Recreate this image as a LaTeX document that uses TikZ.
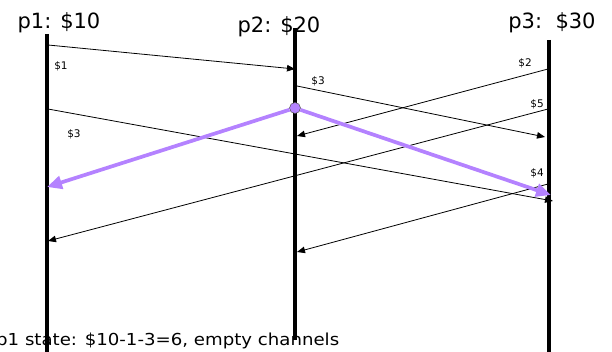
\documentclass[tikz,border=0pt]{standalone}
\usepackage{fontspec}
\setmainfont{DejaVu Sans}
\newfontfamily\widefont[FakeStretch=1.1]{DejaVu Sans}
\usetikzlibrary{arrows.meta}
\definecolor{snap}{RGB}{180,130,255}
\begin{document}
\begin{tikzpicture}[x=1pt,y=-1pt,
  timeline/.style={line width=4pt},
  msg/.style={line width=0.8pt,-{Triangle[length=8pt,width=6.5pt]}},
  marker/.style={line width=3.7pt,snap,-{Triangle[length=15pt,width=13pt]}},
  lbl/.style={font=\fontsize{10.5}{12}\selectfont,inner sep=0pt},
  title/.style={font=\fontsize{21}{24}\selectfont,inner sep=0pt,anchor=base}]
\useasboundingbox (0,0) rectangle (612,352);
% titles
\node[title] (t1) at (59,29) {p1: \$10};
\node[title] (t2) at (279,33) {p2: \$20};
\node[title] (t3) at (552,29) {p3:\ \ \$30};
% bottom text
\node[font=\widefont\fontsize{16.5}{18}\selectfont,anchor=base west,inner sep=0pt] (st) at (-4,345) {p1 state: \$10-1-3=6, empty channels};
% timelines
\coordinate (p1top) at (47,34);
\coordinate (p1bot) at (47,352);
\coordinate (p2top) at (295,28);
\coordinate (p2bot) at (295,340);
\coordinate (p3top) at (549,40);
\coordinate (p3bot) at (549,352);
\draw[timeline] (p1top) -- (p1bot);
\draw[timeline] (p2top) -- (p2bot);
\draw[timeline] (p3top) -- (p3bot);
% message endpoints
\coordinate (a1) at (48,45);  \coordinate (b1) at (295,69);
\coordinate (a2) at (297,86); \coordinate (b2) at (545,137);
\coordinate (a3) at (48,109); \coordinate (b3) at (553,201);
\coordinate (a4) at (548,69); \coordinate (b4) at (297,136);
\coordinate (a5) at (548,109);\coordinate (b5) at (48,241);
\coordinate (a6) at (548,184);\coordinate (b6) at (297,252);
\draw[msg] (a1) -- (b1);
\draw[msg] (a2) -- (b2);
\draw[msg] (a3) -- (b3);
\draw[msg] (a4) -- (b4);
\draw[msg] (a5) -- (b5);
\draw[msg] (a6) -- (b6);
% labels
\node[lbl] (l1) at (61,66) {\$1};
\node[lbl] (l2) at (318,81) {\$3};
\node[lbl] (l3) at (74,134) {\$3};
\node[lbl] (l4) at (525,63) {\$2};
\node[lbl] (l5) at (537,104) {\$5};
\node[lbl] (l6) at (537,173) {\$4};
% snapshot markers
\node[circle,fill=snap,draw=black!70,line width=0.5pt,minimum size=11pt,inner sep=0pt] (snapc) at (295,108) {};
\coordinate (m1) at (47,187);
\coordinate (m3) at (551,195);
\draw[marker] (snapc) -- (m1);
\draw[marker] (snapc) -- (m3);
\end{tikzpicture}
\end{document}
